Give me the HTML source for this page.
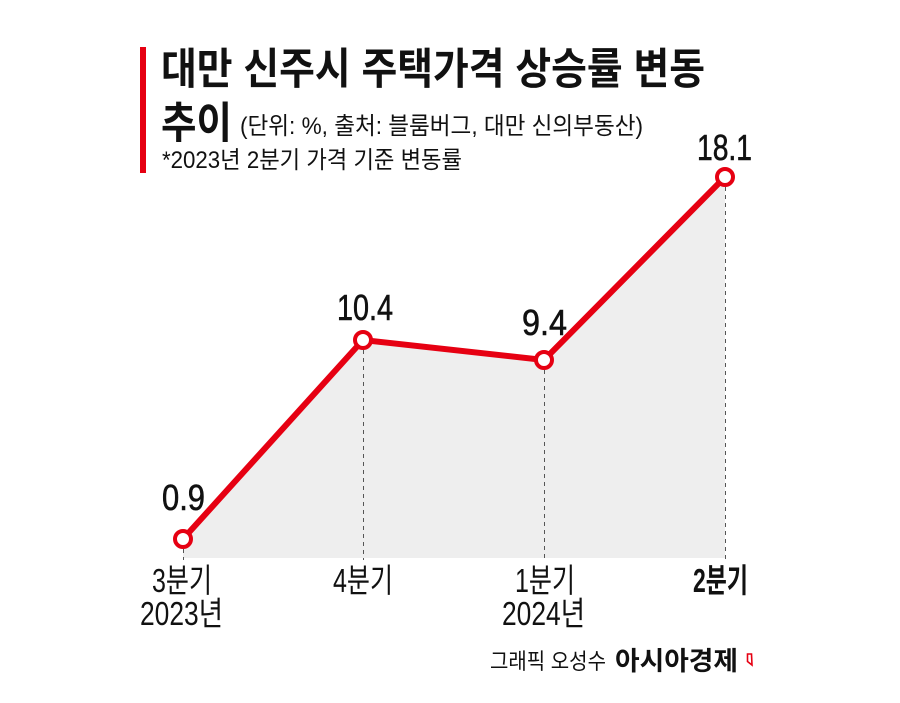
<!DOCTYPE html>
<html><head><meta charset="utf-8"><style>
html,body{margin:0;padding:0;background:#fff;}
svg{display:block;}
text{font-family:"Liberation Sans","Noto Sans CJK KR",sans-serif;fill:#111;}
</style></head><body>
<svg width="900" height="703" viewBox="0 0 900 703" xmlns="http://www.w3.org/2000/svg">
<rect x="0" y="0" width="900" height="703" fill="#fff"/>
<!-- red bar -->
<rect x="140" y="47" width="6" height="126" fill="#e60012"/>
<!-- title -->
<text x="161" y="84" font-size="43" font-weight="700" textLength="544" lengthAdjust="spacingAndGlyphs">대만 신주시 주택가격 상승률 변동</text>
<text x="161" y="138" font-size="43" font-weight="700" textLength="71" lengthAdjust="spacingAndGlyphs">추이</text>
<text x="240" y="134" font-size="24" textLength="403" lengthAdjust="spacingAndGlyphs">(단위: %, 출처: 블룸버그, 대만 신의부동산)</text>
<text x="162" y="168" font-size="24" textLength="300" lengthAdjust="spacingAndGlyphs">*2023년 2분기 가격 기준 변동률</text>
<!-- area -->
<polygon points="183,539 363,340 544,360 725,177 725,558 183,558" fill="#eeeeee"/>
<!-- dashed guides -->
<g stroke="#555" stroke-width="1" stroke-dasharray="4,4">
<line x1="183.5" y1="549" x2="183.5" y2="560"/>
<line x1="363.5" y1="350" x2="363.5" y2="560"/>
<line x1="544.5" y1="370" x2="544.5" y2="560"/>
<line x1="725.5" y1="187" x2="725.5" y2="560"/>
</g>
<!-- line -->
<polyline points="183,539 363,340 544,360 725,177" fill="none" stroke="#e60012" stroke-width="6" stroke-linejoin="round" stroke-linecap="round"/>
<g fill="#fff" stroke="#e60012" stroke-width="4">
<circle cx="183" cy="539" r="8"/>
<circle cx="363" cy="340" r="8"/>
<circle cx="544" cy="360" r="8"/>
<circle cx="725" cy="177" r="8"/>
</g>
<!-- value labels -->
<g font-size="36" stroke="#111" stroke-width="0.6">
<text x="162" y="510" textLength="43" lengthAdjust="spacingAndGlyphs">0.9</text>
<text x="337" y="320" textLength="56" lengthAdjust="spacingAndGlyphs">10.4</text>
<text x="522" y="335" textLength="45" lengthAdjust="spacingAndGlyphs">9.4</text>
<text x="697" y="160" textLength="55" lengthAdjust="spacingAndGlyphs">18.1</text>
</g>
<!-- axis labels -->
<g font-size="33">
<text x="152" y="592" textLength="60" lengthAdjust="spacingAndGlyphs">3분기</text>
<text x="140" y="625" textLength="83" lengthAdjust="spacingAndGlyphs">2023년</text>
<text x="333" y="592" textLength="60" lengthAdjust="spacingAndGlyphs">4분기</text>
<text x="515" y="592" textLength="60" lengthAdjust="spacingAndGlyphs">1분기</text>
<text x="502" y="625" textLength="83" lengthAdjust="spacingAndGlyphs">2024년</text>
<text x="693" y="592" font-weight="700" textLength="55" lengthAdjust="spacingAndGlyphs">2분기</text>
</g>
<!-- footer -->
<text x="490" y="669" font-size="22" textLength="116" lengthAdjust="spacingAndGlyphs">그래픽 오성수</text>
<text x="615" y="670" font-size="26" font-weight="700" textLength="123" lengthAdjust="spacingAndGlyphs">아시아경제</text>
<polygon points="747.5,654 751.5,654 752,665 747.5,661.5" fill="none" stroke="#e60012" stroke-width="1.6"/>
</svg>
</body></html>
